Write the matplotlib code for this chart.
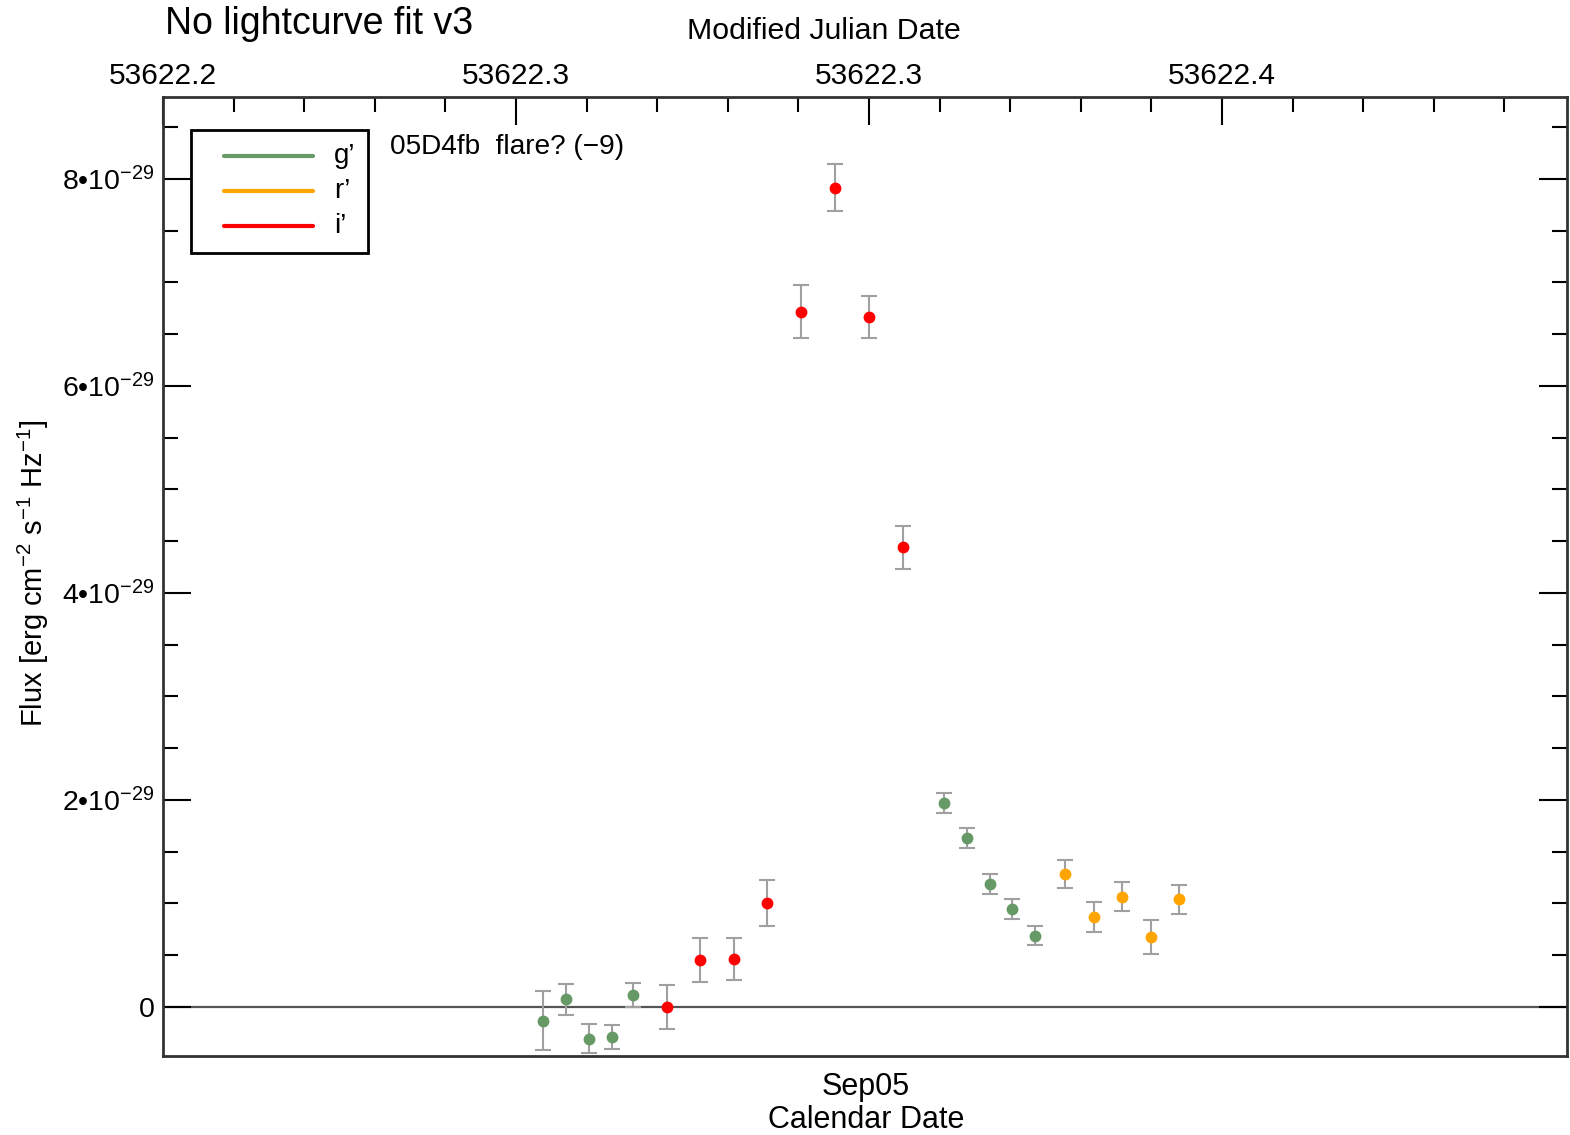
import numpy as np
import matplotlib
matplotlib.use("Agg")
from matplotlib import pyplot as plt
from matplotlib.patches import Rectangle
from matplotlib.ticker import FixedLocator, MultipleLocator

plt.rcParams['font.family'] = ['Liberation Sans', 'DejaVu Sans']
plt.rcParams['mathtext.fontset'] = 'custom'
plt.rcParams['mathtext.rm'] = 'Liberation Sans'
plt.rcParams['mathtext.it'] = 'Liberation Sans:italic'

# data (MJD, flux in erg cm^-2 s^-1 Hz^-1)
g_mjd  = [53622.25382, 53622.25708, 53622.26034, 53622.26360, 53622.26657,
          53622.31062, 53622.31388, 53622.31714, 53622.32025, 53622.32351]
g_flux = [-0.135, 0.077, -0.309, -0.290, 0.116, 1.971, 1.633, 1.188, 0.947, 0.689]
g_err  = [0.285, 0.150, 0.140, 0.116, 0.116, 0.092, 0.097, 0.097, 0.100, 0.092]

r_mjd  = [53622.32776, 53622.33187, 53622.33584, 53622.33994, 53622.34391]
r_flux = [1.285, 0.870, 1.063, 0.676, 1.043]
r_err  = [0.140, 0.145, 0.140, 0.160, 0.140]

i_mjd  = [53622.27139, 53622.27606, 53622.28088, 53622.28555, 53622.29037,
          53622.29518, 53622.30000, 53622.30482]
i_flux = [0.000, 0.454, 0.464, 1.005, 6.715, 7.913, 6.667, 4.444]
i_err  = [0.213, 0.213, 0.203, 0.222, 0.256, 0.227, 0.203, 0.208]

scale = 1e-29
bands  = ["g’", "r’", "i’"]
colors = ["#669966", "#ffa500", "#ff0000"]

top_ticks  = [53622.20, 53622.25, 53622.30, 53622.35]
top_labels = ["53622.2", "53622.3", "53622.3", "53622.4"]
y_ticks    = [0, 2e-29, 4e-29, 6e-29, 8e-29]
y_labels   = ["0", r"$2•10^{-29}$", r"$4•10^{-29}$", r"$6•10^{-29}$", r"$8•10^{-29}$"]

W, H = 1570, 1135
X0, X1, Y0, Y1 = 163, 1567, 97, 1056   # axes box in pixels
fig = plt.figure(figsize=(W/100, H/100), dpi=100)
ax = fig.add_axes([X0/W, 1-Y1/H, (X1-X0)/W, (Y1-Y0)/H])

def axfrac(px, py):
    return (px-X0)/(X1-X0), (Y1-py)/(Y1-Y0)

ax.set_xlim(53622.2, 53622.2 + (X1-X0)/7060.)
ax.set_ylim(-0.4734e-29, 8.792e-29)

ax.axhline(0, color="#555555", lw=1.6, zorder=1)

sets = [(g_mjd, g_flux, g_err), (r_mjd, r_flux, r_err), (i_mjd, i_flux, i_err)]
for (x, y, e), c in zip(sets, colors):
    ax.errorbar(x, np.array(y)*scale, yerr=np.array(e)*scale, fmt='o', color=c,
                mec=c, ms=7.5, ecolor="#a0a0a0", elinewidth=1.5, capsize=6,
                capthick=1.5, zorder=3)

# legend box drawn by hand (IDL style)
bx0, by0 = axfrac(191, 253)
bx1, by1 = axfrac(368, 130)
ax.add_patch(Rectangle((bx0, by0), bx1-bx0, by1-by0, transform=ax.transAxes,
                       fill=True, facecolor="white", edgecolor="black", lw=2, zorder=5))
for k, (c, lab) in enumerate(zip(colors, bands)):
    py = 156 + 35*k
    xa, ya = axfrac(224, py)
    xb, _ = axfrac(313, py)
    ax.plot([xa, xb], [ya, ya], color=c, lw=3, transform=ax.transAxes, zorder=6,
            solid_capstyle='round')
    xt, _ = axfrac(334, py)
    ax.text(xt, ya, lab, transform=ax.transAxes, fontsize=20, ha='left',
            va='center', zorder=6)

# ticks
ax.xaxis.set_major_locator(FixedLocator(top_ticks))
ax.xaxis.set_minor_locator(MultipleLocator(0.01))
ax.set_xticklabels(top_labels)
ax.tick_params(axis='x', which='both', direction='in', top=True, bottom=False,
               labeltop=True, labelbottom=False, labelsize=21.5, pad=5, width=1.5)
ax.tick_params(axis='x', which='major', length=20)
ax.tick_params(axis='x', which='minor', length=11)

ax.yaxis.set_major_locator(FixedLocator(y_ticks))
ax.yaxis.set_minor_locator(MultipleLocator(0.5e-29))
ax.set_yticklabels(y_labels)
ax.tick_params(axis='y', which='both', direction='in', left=True, right=True,
               labelsize=20.5, pad=6, width=1.5)
ax.tick_params(axis='y', which='major', length=20)
ax.tick_params(axis='y', which='minor', length=11)

for s in ax.spines.values():
    s.set_linewidth(2)
    s.set_color("#333333")

fig.text(165/W, 1-24/H, "No lightcurve fit v3", fontsize=27, ha='left', va='center')
fig.text(824/W, 1-31/H, "Modified Julian Date", fontsize=21.8, ha='center', va='center')
fig.text(390/W, 1-147/H, "05D4fb  flare? (−9)", fontsize=20.2, ha='left', va='center')
fig.text(866/W, 1-1087/H, "Sep05", fontsize=22, ha='center', va='center')
fig.text(866/W, 1-1120/H, "Calendar Date", fontsize=22, ha='center', va='center')
fig.text(33/W, 1-573/H, r"Flux [erg cm$^{-2}$ s$^{-1}$ Hz$^{-1}$]", fontsize=21,
         rotation=90, ha='center', va='center')

fig.savefig("out.png", dpi=100)
